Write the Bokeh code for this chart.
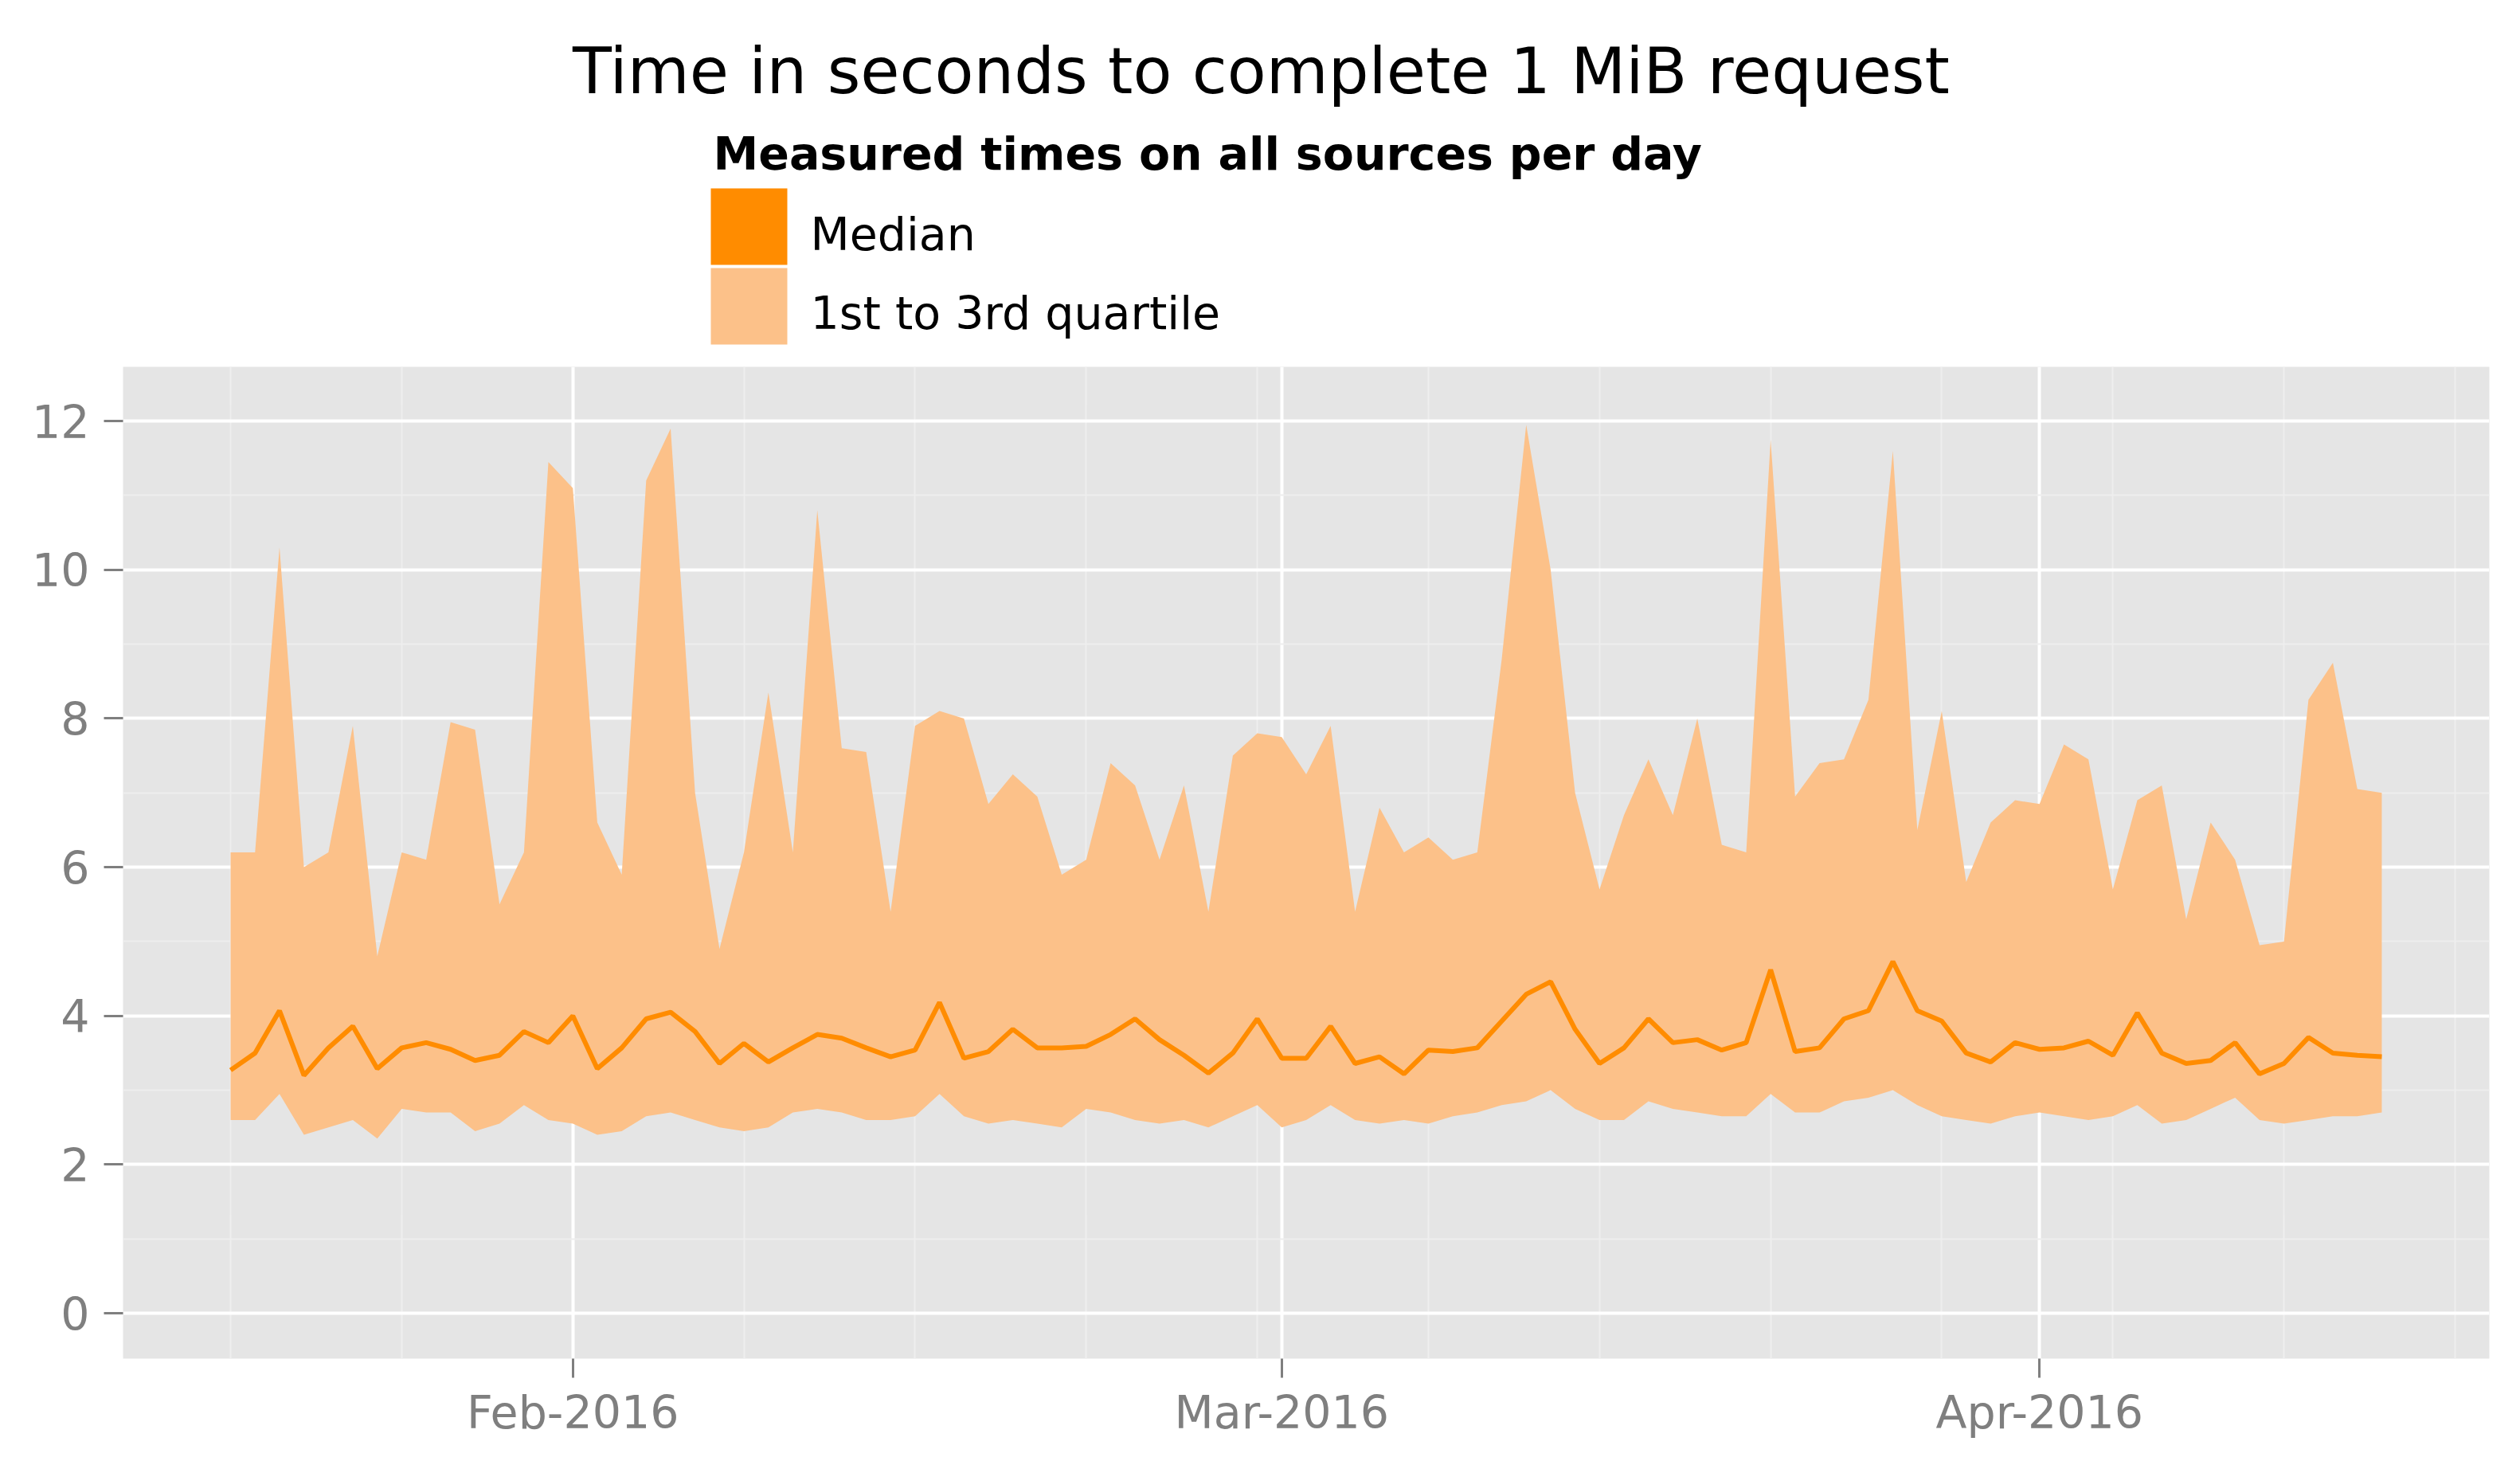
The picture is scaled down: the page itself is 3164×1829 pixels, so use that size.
import pandas as pd
from bokeh.plotting import figure
from bokeh.models import Range1d, FixedTicker, DatetimeTickFormatter, Label
from bokeh.layouts import column
from bokeh.embed import file_html
from bokeh.resources import INLINE

# ---------------- data ----------------
start_date = "2016-01-18"

q3 = [6.2, 6.2, 10.3, 6.0, 6.2, 7.9, 4.8, 6.2, 6.1, 7.95,
      7.85, 5.5, 6.2, 11.45, 11.1, 6.6, 5.9, 11.2, 11.9, 7.0,
      4.9, 6.2, 8.35, 6.2, 10.8, 7.6, 7.55, 5.4, 7.9, 8.1,
      8.0, 6.85, 7.25, 6.95, 5.9, 6.1, 7.4, 7.1, 6.1, 7.1,
      5.4, 7.5, 7.8, 7.75, 7.25, 7.9, 5.4, 6.8, 6.2, 6.4,
      6.1, 6.2, 8.8, 11.95, 10.0, 7.0, 5.7, 6.7, 7.45, 6.7,
      8.0, 6.3, 6.2, 11.75, 6.95, 7.4, 7.45, 8.25, 11.6, 6.5,
      8.1, 5.8, 6.6, 6.9, 6.85, 7.65, 7.45, 5.7, 6.9, 7.1,
      5.3, 6.6, 6.1, 4.95, 5.0, 8.25, 8.75, 7.05, 7.0]

median = [3.27, 3.5, 4.07, 3.2, 3.57, 3.86, 3.29, 3.57, 3.64, 3.55,
          3.4, 3.47, 3.79, 3.64, 4.0, 3.29, 3.57, 3.96, 4.05, 3.79,
          3.36, 3.63, 3.38, 3.57, 3.75, 3.7, 3.57, 3.45, 3.54, 4.18,
          3.43, 3.52, 3.82, 3.57, 3.57, 3.59, 3.75, 3.96, 3.68, 3.47,
          3.23, 3.5, 3.96, 3.43, 3.43, 3.86, 3.36, 3.45, 3.22, 3.54,
          3.52, 3.57, 3.93, 4.29, 4.46, 3.82, 3.36, 3.57, 3.96, 3.64,
          3.68, 3.54, 3.64, 4.62, 3.52, 3.57, 3.96, 4.07, 4.73, 4.07,
          3.93, 3.5, 3.38, 3.64, 3.55, 3.57, 3.66, 3.47, 4.04, 3.5,
          3.36, 3.4, 3.64, 3.22, 3.36, 3.71, 3.5, 3.47, 3.45]

q1 = [2.6, 2.6, 2.95, 2.4, 2.5, 2.6, 2.35, 2.75, 2.7, 2.7,
      2.45, 2.55, 2.8, 2.6, 2.55, 2.4, 2.45, 2.65, 2.7, 2.6,
      2.5, 2.45, 2.5, 2.7, 2.75, 2.7, 2.6, 2.6, 2.65, 2.95,
      2.65, 2.55, 2.6, 2.55, 2.5, 2.75, 2.7, 2.6, 2.55, 2.6,
      2.5, 2.65, 2.8, 2.5, 2.6, 2.8, 2.6, 2.55, 2.6, 2.55,
      2.65, 2.7, 2.8, 2.85, 3.0, 2.75, 2.6, 2.6, 2.85, 2.75,
      2.7, 2.65, 2.65, 2.95, 2.7, 2.7, 2.85, 2.9, 3.0, 2.8,
      2.65, 2.6, 2.55, 2.65, 2.7, 2.65, 2.6, 2.65, 2.8, 2.55,
      2.6, 2.75, 2.9, 2.6, 2.55, 2.6, 2.65, 2.65, 2.7]

x_major_ticks = ["2016-02-01", "2016-03-01", "2016-04-01"]
x_minor_ticks = ["2016-01-18", "2016-01-25", "2016-02-08", "2016-02-15", "2016-02-22",
                 "2016-02-29", "2016-03-07", "2016-03-14", "2016-03-21", "2016-03-28",
                 "2016-04-04", "2016-04-11", "2016-04-18"]
y_major_ticks = [0, 2, 4, 6, 8, 10, 12]
y_minor_ticks = [1, 3, 5, 7, 9, 11]

title_text = "Time in seconds to complete 1 MiB request"
legend_title = "Measured times on all sources per day"
legend_labels = ["Median", "1st to 3rd quartile"]

# ---------------- styling ----------------
FONT = "DejaVu Sans"
LINE_COLOR = "#FF8C00"
RIBBON_COLOR = "#FCC189"
PANEL_BG = "#E5E5E5"
AXIS_GREY = "#7F7F7F"

dates = pd.date_range(start_date, periods=len(median), freq="D")

def to_ms(vals):
    return [float(pd.Timestamp(v).value // 10**6) for v in vals]

pad = (dates[-1] - dates[0]) * 0.05
x_range = Range1d(start=dates[0] - pad, end=dates[-1] + pad)
y_range = Range1d(start=-0.61, end=12.73)

W = 3148
HEADER_H = 448
MAIN_H = 1365
BL, BR, BT, BB = 154, 23, 12, 108   # main figure borders
PAGE = 8

# ---------------- header: title + legend (page-pixel coordinates) ----------------
frame_left = PAGE + BL
frame_right = PAGE + W - BR
h = figure(width=W, height=HEADER_H,
           x_range=Range1d(frame_left, frame_right),
           y_range=Range1d(PAGE + HEADER_H, PAGE),
           toolbar_location=None, output_backend="svg", min_border=0,
           x_axis_location=None, y_axis_location=None)
h.grid.visible = False
h.outline_line_color = None
h.background_fill_color = "white"
h.border_fill_color = "white"

h.add_layout(Label(x=1591, y=97, text=title_text, text_font=FONT, text_font_size="80px",
                   text_align="center", text_baseline="alphabetic", text_color="black"))
h.add_layout(Label(x=903, y=200, text=legend_title, text_font=FONT, text_font_size="57px",
                   text_font_style="bold", text_align="left", text_baseline="alphabetic",
                   text_color="black"))
key_left, key_size = 900, 96
key_tops = [244, 344]
h.quad(left=[key_left] * 2, right=[key_left + key_size] * 2,
       top=key_tops, bottom=[t + key_size for t in key_tops],
       fill_color=[LINE_COLOR, RIBBON_COLOR], line_color=None)
for lab, yb in zip(legend_labels, [301, 400]):
    h.add_layout(Label(x=1025, y=yb, text=lab, text_font=FONT,
                       text_font_size="57px", text_align="left", text_baseline="alphabetic",
                       text_color="black"))

# ---------------- main plot ----------------
p = figure(width=W, height=MAIN_H, x_axis_type="datetime", x_range=x_range, y_range=y_range,
           toolbar_location=None, output_backend="svg",
           min_border_left=BL, min_border_right=BR, min_border_top=BT, min_border_bottom=BB)
p.background_fill_color = PANEL_BG
p.border_fill_color = "white"
p.outline_line_color = None

xt = FixedTicker(ticks=to_ms(x_major_ticks), minor_ticks=to_ms(x_minor_ticks))
yt = FixedTicker(ticks=y_major_ticks, minor_ticks=y_minor_ticks)
p.xaxis.ticker = xt
p.xgrid.ticker = xt
p.yaxis.ticker = yt
p.ygrid.ticker = yt
p.xaxis.formatter = DatetimeTickFormatter(days="%b-%Y", months="%b-%Y", years="%b-%Y")

p.grid.grid_line_color = "white"
p.grid.grid_line_width = 4
p.grid.minor_grid_line_color = "#EEEEEE"
p.grid.minor_grid_line_width = 2

p.axis.axis_line_color = None
p.axis.major_tick_line_color = AXIS_GREY
p.axis.major_tick_line_width = 3
p.axis.major_tick_out = 24
p.axis.major_tick_in = 0
p.axis.minor_tick_line_color = None
p.axis.major_label_text_color = AXIS_GREY
p.axis.major_label_text_font = FONT
p.axis.major_label_text_font_size = "57px"
p.yaxis.major_label_standoff = 18
p.xaxis.major_label_standoff = 10

p.varea(x=dates, y1=q1, y2=q3, fill_color=RIBBON_COLOR, fill_alpha=1.0)
p.line(x=dates, y=median, line_color=LINE_COLOR, line_width=6)

layout = column(h, p)
open("out.html", "w").write(file_html(layout, INLINE))
